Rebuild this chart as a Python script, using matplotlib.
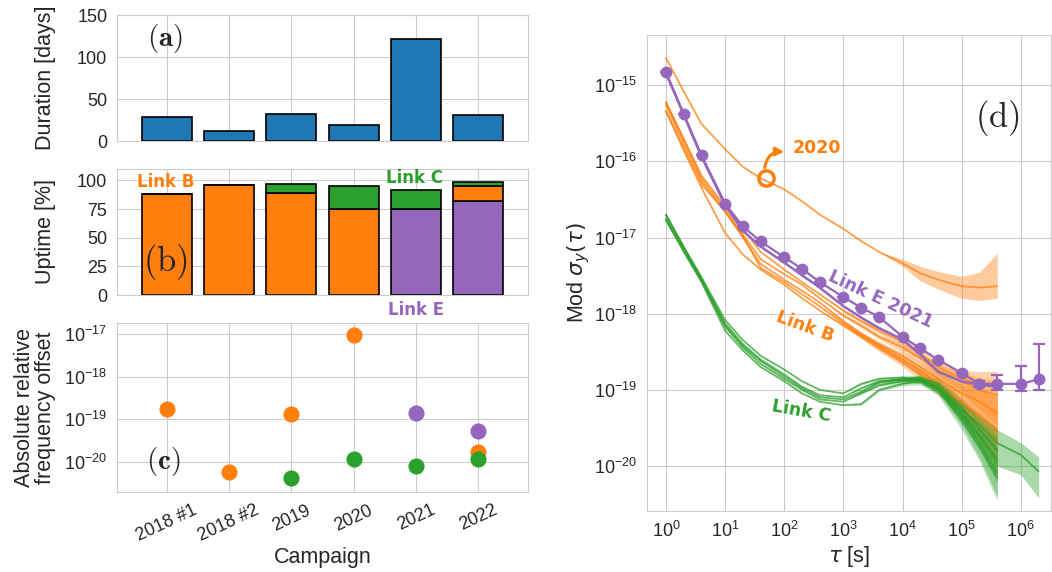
import numpy as np
import matplotlib
matplotlib.use('Agg')
import matplotlib.pyplot as plt
import matplotlib.ticker as mticker
import seaborn as sns

sns.set_style('whitegrid')
plt.rcParams['font.family'] = ['Liberation Sans', 'DejaVu Sans']

# campaign overview
campaigns = ['2018 #1', '2018 #2', '2019', '2020', '2021', '2022']
duration = [29, 12, 32, 19, 121, 31]
uptime_E = [0, 0, 0, 0, 75, 82.5]
uptime_B = [88, 96, 89, 75, 0, 13]
uptime_C = [0, 0, 8, 20, 16.5, 3.5]
offset_B = [1.7e-19, 5.8e-21, 1.3e-19, 9.5e-18, np.nan, 1.73e-20]
offset_C = [np.nan, np.nan, 4.1e-21, 1.15e-20, 7.9e-21, 1.15e-20]
offset_E = [np.nan, np.nan, np.nan, np.nan, 1.38e-19, 5.4e-20]

# Mod sigma_y(tau)
tau = [1, 2, 4, 10, 20, 40, 100, 200, 400, 1e3, 2e3, 4e3, 1e4, 2e4, 4e4, 1e5, 2e5, 4e5]
tau_long = tau + [1e6, 2e6]

E_2021 = [1.48e-15, 4.2e-16, 1.2e-16, 2.8e-17, 1.4e-17, 8.9e-18, 5.5e-18, 3.9e-18, 2.6e-18, 1.66e-18,
          1.2e-18, 9.1e-19, 5.0e-19, 3.5e-19, 2.5e-19, 1.65e-19, 1.21e-19, 1.2e-19, 1.2e-19, 1.38e-19]
E_2021_lo = E_2021[:16] + [1.1e-19, 1.0e-19, 0.96e-19, 1.0e-19]
E_2021_hi = E_2021[:16] + [1.32e-19, 1.58e-19, 2.04e-19, 4.0e-19]
E_2022 = [1.45e-15, 4.1e-16, 1.15e-16, 2.7e-17, 1.23e-17, 7.6e-18, 4.7e-18, 3.2e-18, 2.2e-18, 1.26e-18,
          8.9e-19, 6.5e-19, 4.6e-19, 2.9e-19, 1.73e-19, 1.29e-19, 1.17e-19, 1.1e-19]

B_2020 = [2.3e-15, 8.3e-16, 3.1e-16, 1.45e-16, 8.5e-17, 6.0e-17, 4.3e-17, 3.0e-17, 2.0e-17, 1.3e-17,
          9.0e-18, 6.5e-18, 4.6e-18, 3.4e-18, 2.8e-18, 2.3e-18, 2.2e-18, 2.3e-18]
B_2020_lo = B_2020[:12] + [4.2e-18, 2.7e-18, 2.1e-18, 1.6e-18, 1.5e-18, 1.6e-18]
B_2020_hi = B_2020[:12] + [5.2e-18, 4.2e-18, 3.6e-18, 3.1e-18, 3.5e-18, 6.3e-18]

B_runs = [
    [6.0e-16, 2.0e-16, 6.5e-17, 2.6e-17, 1.3e-17, 6.5e-18, 3.8e-18, 2.6e-18, 1.8e-18, 1.1e-18,
     8.0e-19, 6.0e-19, 4.3e-19, 3.0e-19, 2.0e-19, 1.4e-19, 1.2e-19, 1.1e-19],
    [6.0e-16, 1.9e-16, 6.0e-17, 2.4e-17, 1.1e-17, 5.2e-18, 3.3e-18, 2.4e-18, 1.6e-18, 9.5e-19,
     7.0e-19, 5.0e-19, 3.6e-19, 2.6e-19, 1.8e-19, 1.3e-19, 1.0e-19, 8.5e-20],
    [4.6e-16, 1.5e-16, 5.0e-17, 2.2e-17, 1.0e-17, 4.5e-18, 2.8e-18, 2.0e-18, 1.4e-18, 8.0e-19,
     5.5e-19, 4.0e-19, 2.8e-19, 2.0e-19, 1.4e-19, 9.0e-20, 7.0e-20, 5.0e-20],
    [4.6e-16, 1.4e-16, 4.5e-17, 1.15e-17, 6.0e-18, 3.8e-18, 2.4e-18, 1.6e-18, 1.1e-18, 7.0e-19,
     5.0e-19, 3.5e-19, 2.3e-19, 1.6e-19, 1.1e-19, 7.0e-20, 4.5e-20, 3.0e-20],
    [5.5e-16, 1.7e-16, 5.5e-17, 2.2e-17, 1.05e-17, 4.0e-18, 2.6e-18, 1.8e-18, 1.25e-18, 7.5e-19,
     5.2e-19, 3.8e-19, 2.5e-19, 1.8e-19, 1.2e-19, 6.0e-20, 3.5e-20, 2.0e-20],
]
B_err = [0, 0, 0, 0, 0, 0, 0, 0, 0, 0.04, 0.06, 0.08, 0.12, 0.16, 0.22, 0.3, 0.45, 0.6]

C_runs = [
    [2.0e-17, 7.6e-18, 3.0e-18, 8.3e-19, 4.5e-19, 2.8e-19, 1.85e-19, 1.3e-19, 1.0e-19, 9.0e-20,
     1.2e-19, 1.4e-19, 1.45e-19, 1.4e-19, 1.1e-19, 5.0e-20, 2.5e-20, 1.2e-20],
    [2.0e-17, 7.5e-18, 2.9e-18, 7.5e-19, 4.0e-19, 2.5e-19, 1.6e-19, 1.1e-19, 8.5e-20, 8.0e-20,
     1.05e-19, 1.3e-19, 1.35e-19, 1.45e-19, 1.2e-19, 6.0e-20, 3.0e-20, 1.6e-20],
    [1.7e-17, 6.8e-18, 2.7e-18, 6.8e-19, 3.6e-19, 2.2e-19, 1.4e-19, 1.0e-19, 7.5e-20, 7.0e-20,
     9.0e-20, 1.15e-19, 1.3e-19, 1.35e-19, 1.05e-19, 4.5e-20, 2.0e-20, 8.0e-21],
    [1.7e-17, 6.5e-18, 2.6e-18, 6.0e-19, 3.3e-19, 2.0e-19, 1.3e-19, 9.0e-20, 7.0e-20, 6.3e-20,
     6.5e-20, 1.0e-19, 1.2e-19, 1.3e-19, 1.0e-19, 4.0e-20, 1.8e-20, 7.0e-21],
]
C_long = [1.8e-17, 7.0e-18, 2.8e-18, 7.0e-19, 3.8e-19, 2.4e-19, 1.5e-19, 1.05e-19, 8.0e-20, 7.5e-20,
          9.5e-20, 1.25e-19, 1.4e-19, 1.35e-19, 1.1e-19, 5.5e-20, 3.5e-20, 2.0e-20, 1.4e-20, 8.5e-21]
C_err = [0, 0, 0, 0, 0, 0, 0, 0, 0, 0, 0.03, 0.04, 0.06, 0.1, 0.15, 0.25, 0.35, 0.5, 0.45, 0.55]

cB, cC, cE, cD = '#ff7f0e', '#2ca02c', '#9467bd', '#1f77b4'
W, H = 1052, 572


def box(l, t, r, b):
    return [l / W, 1 - b / H, (r - l) / W, (b - t) / H]


fig = plt.figure(figsize=(W / 100, H / 100), dpi=100)
ax_a = fig.add_axes(box(117, 15, 528, 141))
ax_b = fig.add_axes(box(117, 169, 528, 295))
ax_c = fig.add_axes(box(117, 323, 528, 492))
ax_d = fig.add_axes(box(647, 35, 1051, 511))

x = np.arange(len(campaigns))
fs = 13
lab = 15.5

# (a)
ax_a.bar(x, duration, width=0.8, color=cD, edgecolor='black', linewidth=1.2)
ax_a.set_ylim(0, 150)
ax_a.set_yticks([0, 50, 100, 150])
ax_a.set_ylabel('Duration [days]', fontsize=lab)
ax_a.text(0.117, 0.817, r'$\mathbf{(a)}$', transform=ax_a.transAxes, ha='center', va='center',
          fontsize=21, math_fontfamily='cm')

# (b)
ax_b.bar(x, uptime_E, width=0.8, color=cE, edgecolor='black', linewidth=1.2)
ax_b.bar(x, uptime_B, width=0.8, bottom=uptime_E, color=cB, edgecolor='black', linewidth=1.2)
ax_b.bar(x, uptime_C, width=0.8, bottom=np.add(uptime_E, uptime_B), color=cC,
         edgecolor='black', linewidth=1.2)
ax_b.set_ylim(0, 110)
ax_b.set_yticks([0, 25, 50, 75, 100])
ax_b.set_ylabel('Uptime [%]', fontsize=lab)
ax_b.text(0.119, 0.262, r'$\mathrm{(b)}$', transform=ax_b.transAxes, ha='center', va='center',
          fontsize=25, math_fontfamily='cm')
ax_b.text(0.119, 0.897, 'Link B', transform=ax_b.transAxes, ha='center', va='center',
          color=cB, fontsize=12, fontweight='bold', family='DejaVu Sans')
ax_b.text(0.725, 0.929, 'Link C', transform=ax_b.transAxes, ha='center', va='center',
          color=cC, fontsize=12, fontweight='bold', family='DejaVu Sans')
ax_b.text(0.727, -0.119, 'Link E', transform=ax_b.transAxes, ha='center', va='center',
          color=cE, fontsize=12, fontweight='bold', family='DejaVu Sans', clip_on=False)

# (c)
ax_c.scatter(x, offset_B, s=135, color=cB, zorder=3, linewidths=0)
ax_c.scatter(x, offset_C, s=135, color=cC, zorder=3, linewidths=0)
ax_c.scatter(x, offset_E, s=135, color=cE, zorder=2, linewidths=0)
ax_c.set_yscale('log')
ax_c.set_ylim(10 ** -20.71, 10 ** -16.74)
ax_c.yaxis.set_major_locator(mticker.FixedLocator([1e-20, 1e-19, 1e-18, 1e-17]))
ax_c.yaxis.set_minor_locator(mticker.NullLocator())
ax_c.set_ylabel('Absolute relative\nfrequency offset', fontsize=lab, linespacing=1.0)
ax_c.set_xlabel('Campaign', fontsize=lab, labelpad=2)
ax_c.text(0.112, 0.178, r'$\mathbf{(c)}$', transform=ax_c.transAxes, ha='center', va='center',
          fontsize=21, math_fontfamily='cm')

for ax in (ax_a, ax_b, ax_c):
    ax.set_xlim(-0.8, 5.8)
    ax.set_xticks(x)
    ax.tick_params(labelsize=fs)
    ax.set_axisbelow(True)
    ax.yaxis.set_label_coords(-0.148, 0.5)
ax_a.set_xticklabels([])
ax_b.set_xticklabels([])
ax_c.set_xticklabels(campaigns, rotation=25, ha='center')

# (d)
for run in B_runs:
    v = np.array(run)
    e = np.array(B_err)
    ax_d.fill_between(tau, v * (1 - e), v * (1 + e), color=cB, alpha=0.35, linewidth=0)
    ax_d.plot(tau, v, color=cB, lw=1.3, alpha=0.75)
ax_d.fill_between(tau, B_2020_lo, B_2020_hi, color=cB, alpha=0.4, linewidth=0)
ax_d.plot(tau, B_2020, color=cB, lw=1.3, alpha=0.75)

for run in C_runs:
    v = np.array(run)
    e = np.array(C_err[:len(tau)])
    ax_d.fill_between(tau, v * (1 - e), v * (1 + e), color=cC, alpha=0.3, linewidth=0)
    ax_d.plot(tau, v, color=cC, lw=1.3, alpha=0.75)
v = np.array(C_long)
e = np.array(C_err)
ax_d.fill_between(tau_long, v * (1 - e), v * (1 + e), color=cC, alpha=0.4, linewidth=0)
ax_d.plot(tau_long, v, color=cC, lw=1.3, alpha=0.75)

ax_d.plot(tau, E_2022, color=cE, lw=1.8)
yerr = [np.subtract(E_2021, E_2021_lo), np.subtract(E_2021_hi, E_2021)]
ax_d.errorbar(tau_long, E_2021, yerr=yerr, color=cE, lw=1.6, marker='o', ms=7.5,
              capsize=4, elinewidth=1.6, capthick=1.6)

ax_d.plot([50], [6e-17], 'o', ms=11, mfc='none', mec=cB, mew=2.5)
ax_d.annotate('', xy=(112, 1.33e-16), xytext=(46, 7.6e-17),
              arrowprops=dict(arrowstyle='-|>', color=cB, lw=2.2, mutation_scale=12,
                              connectionstyle='arc3,rad=-0.5'))
ax_d.text(140, 1.5e-16, '2020', color=cB, fontsize=12.5, fontweight='bold',
          family='DejaVu Sans', va='center', ha='left')
ax_d.text(4270, 1.52e-18, 'Link E 2021', color=cE, fontsize=12.5, fontweight='bold',
          family='DejaVu Sans', ha='center', va='center', rotation=-25, rotation_mode='anchor')
ax_d.text(223, 6.7e-19, 'Link B', color=cB, fontsize=12.5, fontweight='bold',
          family='DejaVu Sans', ha='center', va='center', rotation=-20, rotation_mode='anchor')
ax_d.text(198, 5.2e-20, 'Link C', color=cC, fontsize=12.5, fontweight='bold',
          family='DejaVu Sans', ha='center', va='center', rotation=-10, rotation_mode='anchor')
ax_d.text(0.867, 0.826, r'$\mathrm{(d)}$', transform=ax_d.transAxes, ha='center', va='center',
          fontsize=25, math_fontfamily='cm')

ax_d.set_xscale('log')
ax_d.set_yscale('log')
ax_d.set_xlim(10 ** -0.32, 10 ** 6.51)
ax_d.set_ylim(10 ** -20.59, 10 ** -14.34)
ax_d.xaxis.set_major_locator(mticker.FixedLocator([10.0 ** k for k in range(7)]))
ax_d.yaxis.set_major_locator(mticker.FixedLocator([10.0 ** k for k in range(-20, -14)]))
ax_d.xaxis.set_minor_locator(mticker.NullLocator())
ax_d.yaxis.set_minor_locator(mticker.NullLocator())
ax_d.tick_params(labelsize=fs)
ax_d.set_xlabel(r'$\tau$ [s]', fontsize=lab, labelpad=2)
ax_d.set_ylabel(r'Mod $\sigma_y(\tau)$', fontsize=lab)
ax_d.yaxis.set_label_coords(-0.135, 0.5)

fig.savefig('out.png', dpi=100)
